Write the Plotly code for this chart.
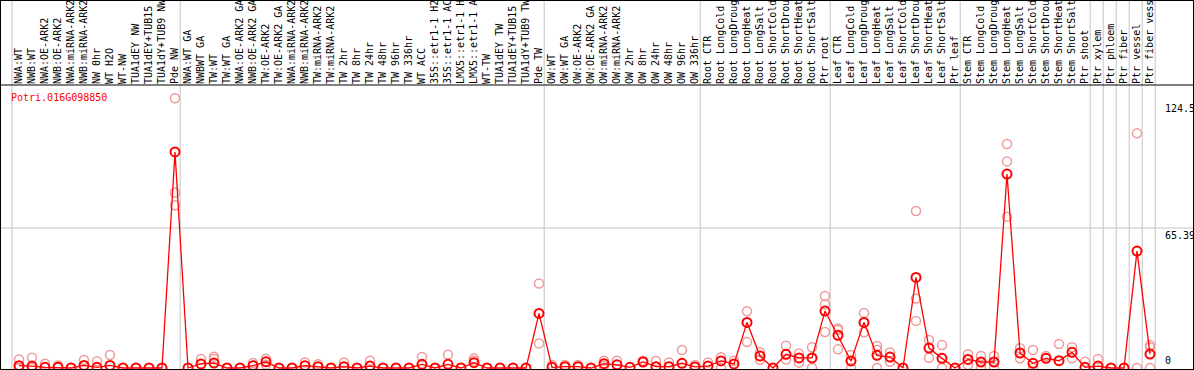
import numpy as np
import plotly.graph_objects as go

gene = "Potri.016G098850"

labels = [
    "NWA:WT", "NWB:WT", "NWA:OE-ARK2", "NWB:OE-ARK2", "NWA:miRNA-ARK2", "NWB:miRNA-ARK2",
    "NW 0hr", "WT H2O", "WT-NW", "TUA1dEY NW", "TUA1dEY+TUB15 NW", "TUA1dY+TUB9 NW", "Pde NW",
    "NWA:WT GA", "NWBWT GA", "TW:WT", "TW:WT GA", "NWA:OE-ARK2 GA", "NWB:OE-ARK2 GA",
    "TW:OE-ARK2", "TW:OE-ARK2 GA", "NWA:miRNA-ARK2", "NWB:miRNA-ARK2", "TW:miRNA-ARK2",
    "TW:miRNA-ARK2", "TW 2hr", "TW 8hr", "TW 24hr", "TW 48hr", "TW 96hr", "TW 336hr",
    "WT ACC", "35S::etr1-1 H2O", "35S::etr1-1 ACC", "LMX5::etr1-1 H2O", "LMX5::etr1-1 ACC",
    "WT-TW", "TUA1dEY TW", "TUA1dEY+TUB15 TW", "TUA1dY+TUB9 TW", "Pde TW",
    "OW:WT", "OW:WT GA", "OW:OE-ARK2", "OW:OE-ARK2 GA", "OW:miRNA-ARK2", "OW:miRNA-ARK2",
    "OW 2hr", "OW 8hr", "OW 24hr", "OW 48hr", "OW 96hr", "OW 336hr",
    "Root CTR", "Root LongCold", "Root LongDrought", "Root LongHeat", "Root LongSalt",
    "Root ShortCold", "Root ShortDrought", "Root ShortHeat", "Root ShortSalt", "Ptr root",
    "Leaf CTR", "Leaf LongCold", "Leaf LongDrought", "Leaf LongHeat", "Leaf LongSalt",
    "Leaf ShortCold", "Leaf ShortDrought", "Leaf ShortHeat", "Leaf ShortSalt", "Ptr leaf",
    "Stem CTR", "Stem LongCold", "Stem LongDrought", "Stem LongHeat", "Stem LongSalt",
    "Stem ShortCold", "Stem ShortDrought", "Stem ShortHeat", "Stem ShortSalt", "Ptr shoot",
    "Ptr xylem", "Ptr phloem", "Ptr fiber", "Ptr vessel", "Ptr fiber vessel",
]

# number of samples in each separated group
group_sizes = [13, 28, 12, 10, 10, 10, 1, 1, 1, 1, 1]

means = [
    1.1, 0.9, 0.3, 0.3, 0, 1.2, 0.3, 1.2, 0, 0, 0, 0, 100.9,
    0, 1.9, 2.3, 0, 0, 1.1, 2.9, 0, 0, 1.1, 0.6, 0, 0.6, 0, 0.9, 0, 0, 0,
    1.7, 0, 1.7, 0, 2.5, 0, 0, 0, 0, 25.5,
    0.3, 0.6, 0.6, 0, 2.0, 1.5, 0.3, 2.8, 0.6, 0.6, 2.2, 0.5,
    0.9, 3.3, 1.9, 21.3, 5.6, 0, 6.4, 4.7, 4.7, 26.6,
    15.3, 3.3, 21.3, 5.9, 5.1, 0, 42.3, 9.3, 4.5, 0,
    4.0, 2.8, 2.8, 90.6, 7.0, 2.2, 4.5, 3.4, 7.3, 0.3,
    0.9, 0, 0, 54.6, 6.5,
]

replicates = [
    [4.0, 0], [4.8, 0], [2.0], [1.2], [], [3.7], [3.2], [6.1], [], [], [], [], [126, 82, 76],
    [], [4.2], [5.3, 4.2], [], [], [2.3], [4.3, 1.5], [], [], [2.6], [1.7], [], [2.6], [],
    [3.4], [], [], [], [5.1], [], [6.2], [], [4.5, 3.5], [], [], [], [], [39.5, 11.5],
    [1.4], [1.4], [1.4], [], [3.4, 0.9], [3.4], [], [3.4], [3.3], [2.6], [8.4], [1.4],
    [2.6], [5.0, 0], [3.4], [26.5, 12.1], [7.3, 3.8], [], [10.4, 4.0], [6.8, 2.5], [9.7, 0],
    [33.6, 29.7, 16.8],
    [18.5, 17.7, 8.7], [6.1, 0], [25.7, 16.7], [10.3, 8.4, 0], [7.2, 2.9], [], [73.3, 32.5, 22.0],
    [13.1, 4.8], [10.7, 0], [],
    [6.4, 1.4], [5.6, 0], [5.6, 0], [104.6, 96.5, 70.7], [9.2, 4.5], [8.4, 0], [5.6], [11.2],
    [9.7, 4.5], [2.9],
    [4.2], [], [], [109.6, 0], [10.7, 9.7, 0],
]

y_ticks = [0, 65.39, 124.5]
y_tick_text = ["0", "65.39", "124.5"]

# ---------------------------------------------------------------
W, H = 1194, 370
FONT = "DejaVu Sans Mono"
x = np.arange(len(labels))

rx, ry = [], []
for i, reps in enumerate(replicates):
    for v in reps:
        rx.append(i)
        ry.append(v)

fig = go.Figure()
fig.add_trace(go.Scatter(
    x=rx, y=ry, mode="markers",
    marker=dict(symbol="circle-open", size=9, color="#ef9a9a", line=dict(width=1.5)),
    hoverinfo="skip", showlegend=False,
))
fig.add_trace(go.Scatter(
    x=x, y=means, mode="lines+markers",
    line=dict(color="#ff0000", width=1.3),
    marker=dict(symbol="circle-open", size=9, color="#ff0000", line=dict(width=2)),
    showlegend=False,
))

px_per_cat = 13.0
x0_px = 19.0
x_range = [-x0_px / px_per_cat, (W - x0_px) / px_per_cat]

zero_px, bottom_px, top_px = 368.0, 369.0, 85.0
px_per_unit = 140.0 / 65.39
y_range = [-(bottom_px - zero_px) / px_per_unit, (zero_px - top_px) / px_per_unit]

shapes = []
grey = "#c4c4c4"
# group separators
bounds = [-0.54]
acc = 0
for g in group_sizes:
    acc += g
    bounds.append(acc - 1 + 0.4)
for b in bounds:
    shapes.append(dict(type="line", xref="x", yref="paper", x0=b, x1=b, y0=0, y1=1,
                       line=dict(color=grey, width=1), layer="below"))
# horizontal grid at middle tick
shapes.append(dict(type="line", xref="paper", yref="y", x0=0, x1=1, y0=y_ticks[1], y1=y_ticks[1],
                   line=dict(color=grey, width=1), layer="below"))
# borders
shapes.append(dict(type="rect", xref="paper", yref="paper", x0=0, x1=1, y0=0, y1=1,
                   line=dict(color="black", width=2)))
shapes.append(dict(type="line", xref="paper", yref="paper", x0=0, x1=1,
                   y0=(H - top_px) / H, y1=(H - top_px) / H, line=dict(color="black", width=1)))

annotations = [dict(
    text=gene, xref="paper", yref="paper", x=9 / W, y=(H - 97) / H,
    xanchor="left", yanchor="middle", showarrow=False,
    font=dict(family=FONT, size=10, color="#ff0000"),
)]
anchors = ["bottom", "top", "top"]
for v, t, a in zip(y_ticks, y_tick_text, anchors):
    annotations.append(dict(
        text=t, xref="paper", yref="y", x=1163 / W, y=v,
        xanchor="left", yanchor=a, showarrow=False,
        font=dict(family=FONT, size=10, color="black"),
    ))

fig.update_layout(
    width=W, height=H, margin=dict(l=0, r=0, t=0, b=0),
    paper_bgcolor="white", plot_bgcolor="rgba(0,0,0,0)",
    template="none",
    shapes=shapes, annotations=annotations,
    xaxis=dict(
        range=x_range, domain=[0, 1], side="top", tickmode="array",
        tickvals=list(x), ticktext=labels, tickangle=-90, ticks="",
        showgrid=False, zeroline=False, showline=False, automargin=False,
        tickfont=dict(family=FONT, size=10, color="black"),
    ),
    yaxis=dict(
        range=y_range, domain=[(H - bottom_px) / H, (H - top_px) / H],
        visible=False, automargin=False, showgrid=False, zeroline=False,
    ),
    hovermode="closest",
)

fig.write_html(
    "out.html",
    config={"displayModeBar": False},
    post_script="document.body.style.margin='0';document.body.style.overflow='hidden';",
)
